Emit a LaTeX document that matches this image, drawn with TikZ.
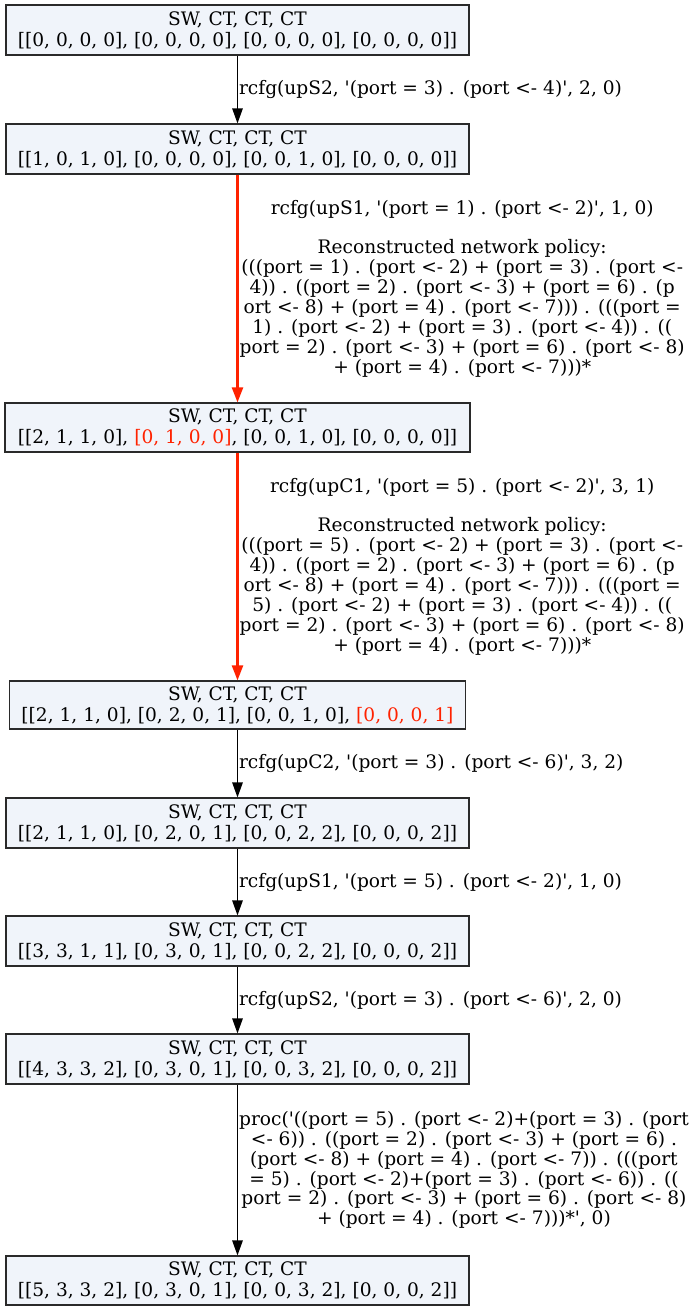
\documentclass[tikz,border=0pt]{standalone}
\usepackage{fontspec}
\setmainfont{DejaVu Serif}[Ligatures=TeXOff]
\usetikzlibrary{arrows.meta}
\definecolor{boxfill}{HTML}{F0F4FA}
\definecolor{boxline}{HTML}{2A2A2A}
\definecolor{hot}{HTML}{FF2200}
\newcommand{\hl}[1]{{\color{hot}#1}}
\begin{document}
\begin{tikzpicture}[x=1pt,y=-1pt,
  state/.style={draw=boxline, line width=1.2pt, fill=boxfill, inner sep=0pt,
    minimum width=463pt, minimum height=50pt, align=center,
    font=\fontsize{18.6}{21}\selectfont},
  trans/.style={draw=black, line width=1.2pt, -{Triangle[length=15pt,width=10.5pt]}},
  hottrans/.style={draw=hot, line width=2.4pt, -{Triangle[length=15pt,width=11pt]}},
  lab/.style={right, inner sep=0pt, xshift=1pt, align=center, text=black,
    font=\fontsize{18.6}{19.9}\selectfont}]
\useasboundingbox (0,0) rectangle (693,1309);

\node[state] (s1) at (237.5,30) {SW, CT, CT, CT\\{}[[0, 0, 0, 0], [0, 0, 0, 0], [0, 0, 0, 0], [0, 0, 0, 0]]};
\node[state] (s2) at (237.5,149) {SW, CT, CT, CT\\{}[[1, 0, 1, 0], [0, 0, 0, 0], [0, 0, 1, 0], [0, 0, 0, 0]]};
\node[state, minimum width=465pt, minimum height=49pt] (s3) at (237.5,427.5) {SW, CT, CT, CT\\{}[[2, 1, 1, 0], \hl{[0, 1, 0, 0]}, [0, 0, 1, 0], [0, 0, 0, 0]]};
\node[state, minimum width=456pt, minimum height=48pt] (s4) at (237.5,705) {SW, CT, CT, CT\\{}[[2, 1, 1, 0], [0, 2, 0, 1], [0, 0, 1, 0], \hl{[0, 0, 0, 1]}};
\node[state] (s5) at (237.5,823) {SW, CT, CT, CT\\{}[[2, 1, 1, 0], [0, 2, 0, 1], [0, 0, 2, 2], [0, 0, 0, 2]]};
\node[state] (s6) at (237.5,941) {SW, CT, CT, CT\\{}[[3, 3, 1, 1], [0, 3, 0, 1], [0, 0, 2, 2], [0, 0, 0, 2]]};
\node[state] (s7) at (237.5,1059) {SW, CT, CT, CT\\{}[[4, 3, 3, 2], [0, 3, 0, 1], [0, 0, 3, 2], [0, 0, 0, 2]]};
\node[state, minimum height=49pt] (s8) at (237.5,1280.5) {SW, CT, CT, CT\\{}[[5, 3, 3, 2], [0, 3, 0, 1], [0, 0, 3, 2], [0, 0, 0, 2]]};

\draw[trans] (s1) -- node[lab] {rcfg(upS2, '(port = 3) . (port <- 4)', 2, 0)} (s2);
\draw[hottrans] (s2) -- node[lab] {rcfg(upS1, '(port = 1) . (port <- 2)', 1, 0)\\[19.9pt]
Reconstructed network policy:\\
(((port = 1) . (port <- 2) + (port = 3) . (port <-\\
4)) . ((port = 2) . (port <- 3) + (port = 6) . (p\\
ort <- 8) + (port = 4) . (port <- 7))) . (((port =\\
1) . (port <- 2) + (port = 3) . (port <- 4)) . ((\\
port = 2) . (port <- 3) + (port = 6) . (port <- 8)\\
+ (port = 4) . (port <- 7)))*} (s3);
\draw[hottrans] (s3) -- node[lab] {rcfg(upC1, '(port = 5) . (port <- 2)', 3, 1)\\[19.9pt]
Reconstructed network policy:\\
(((port = 5) . (port <- 2) + (port = 3) . (port <-\\
4)) . ((port = 2) . (port <- 3) + (port = 6) . (p\\
ort <- 8) + (port = 4) . (port <- 7))) . (((port =\\
5) . (port <- 2) + (port = 3) . (port <- 4)) . ((\\
port = 2) . (port <- 3) + (port = 6) . (port <- 8)\\
+ (port = 4) . (port <- 7)))*} (s4);
\draw[trans] (s4) -- node[lab] {rcfg(upC2, '(port = 3) . (port <- 6)', 3, 2)} (s5);
\draw[trans] (s5) -- node[lab] {rcfg(upS1, '(port = 5) . (port <- 2)', 1, 0)} (s6);
\draw[trans] (s6) -- node[lab] {rcfg(upS2, '(port = 3) . (port <- 6)', 2, 0)} (s7);
\draw[trans] (s7) -- node[lab] {proc('((port = 5) . (port <- 2)+(port = 3) . (port\\
<- 6)) . ((port = 2) . (port <- 3) + (port = 6) .\\
(port <- 8) + (port = 4) . (port <- 7)) . (((port\\
= 5) . (port <- 2)+(port = 3) . (port <- 6)) . ((\\
port = 2) . (port <- 3) + (port = 6) . (port <- 8)\\
+ (port = 4) . (port <- 7)))*', 0)} (s8);
\end{tikzpicture}
\end{document}
